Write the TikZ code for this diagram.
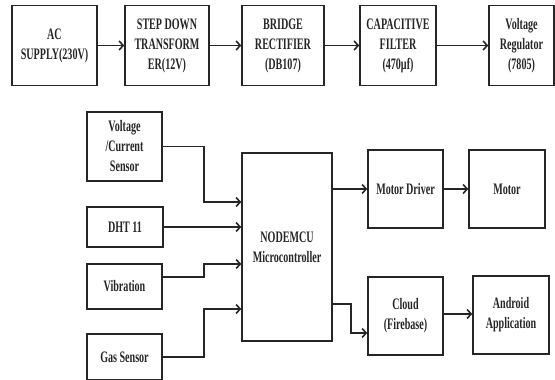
\documentclass[tikz,border=0pt]{standalone}
\usepackage{fontspec}
\usetikzlibrary{arrows.meta}
\newfontfamily\blkfont[FakeStretch=0.63]{Liberation Serif}
\tikzset{
  blk/.style={draw, line width=1.6pt, align=center, inner sep=1pt,
    font=\blkfont\bfseries\fontsize{16}{20}\selectfont},
  link/.style={line width=1.6pt, -{Straight Barb[length=4pt,width=9pt]}}
}
\begin{document}
\begin{tikzpicture}[x=1pt, y=-1pt, color=black!85]
  \useasboundingbox (0,0) rectangle (555,380);
  % power supply chain
  \node[blk, minimum width=85pt, minimum height=80pt] (ac) at (54.5,45.5) {AC\\SUPPLY(230V)};
  \node[blk, minimum width=84pt, minimum height=80pt] (stp) at (167,45.5) {STEP DOWN\\TRANSFORM\\ER(12V)};
  \node[blk, minimum width=82pt, minimum height=80pt] (brg) at (283,45.5) {BRIDGE\\RECTIFIER\\(DB107)};
  \node[blk, minimum width=76pt, minimum height=80pt] (cap) at (398,45.5) {CAPACITIVE\\FILTER\\(470\textmu f)};
  \node[blk, minimum width=65pt, minimum height=80pt] (reg) at (521.5,45.5) {Voltage\\Regulator\\(7805)};
  \draw[link] (ac) -- (stp);
  \draw[link] (stp) -- (brg);
  \draw[link] (brg) -- (cap);
  \draw[link] (cap) -- (reg);
  % sensors
  \node[blk, minimum width=75pt, minimum height=69pt] (vcs) at (124.5,146.5) {Voltage\\/Current\\Sensor};
  \node[blk, minimum width=76pt, minimum height=40pt] (dht) at (125,227) {DHT 11};
  \node[blk, minimum width=75pt, minimum height=45pt] (vib) at (124.5,286.5) {Vibration};
  \node[blk, minimum width=75pt, minimum height=46pt] (gas) at (124.5,357) {Gas Sensor};
  \node[blk, minimum width=90pt, minimum height=188pt] (mcu) at (287,247) {NODEMCU\\Microcontroller};
  \draw[link] (vcs.east) -- ++(41,0) |- ([yshift=45pt]mcu.west);
  \draw[link] (dht.east) -- (dht.east -| mcu.west);
  \draw[link] ([yshift=9.5pt]vib.east) -- ++(41,0) |- ([yshift=-17pt]mcu.west);
  \draw[link] (gas.east) -- ++(41,0) |- ([yshift=-62pt]mcu.west);
  % outputs
  \node[blk, minimum width=75pt, minimum height=78pt] (drv) at (405.5,189) {Motor Driver};
  \node[blk, minimum width=76pt, minimum height=78pt] (mot) at (507,189) {Motor};
  \node[blk, minimum width=75pt, minimum height=78pt] (cld) at (405.5,316) {Cloud\\(Firebase)};
  \node[blk, minimum width=76pt, minimum height=78pt] (app) at (511,315) {Android\\Application};
  \draw[link] (mcu.east |- drv.west) -- (drv.west);
  \draw[link] (drv) -- (mot);
  \draw[link] ([yshift=-57pt]mcu.east) -- ++(18,0) |- ([yshift=-17pt]cld.west);
  \draw[link] ([yshift=2pt]cld.east) -- ([yshift=2pt]cld.east -| app.west);
\end{tikzpicture}
\end{document}
